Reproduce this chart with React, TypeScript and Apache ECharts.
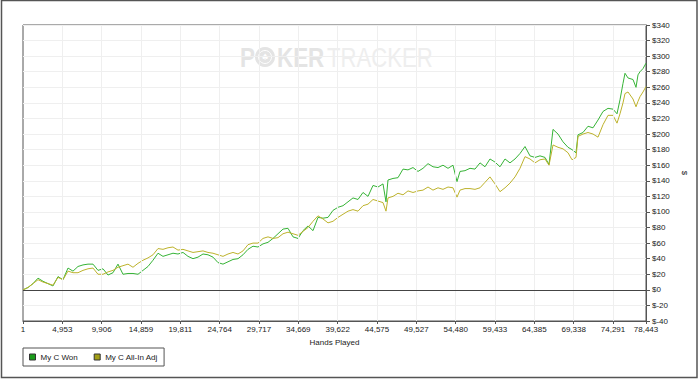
import React, { useEffect, useRef } from "react";
import * as echarts from "echarts";

const seriesNames = ["My C Won", "My C All-In Adj"];

const hands = [
  1, 631, 1260, 1890, 2519, 3149, 3778, 4408, 5037, 5667, 6296, 6926, 7556, 8185, 8815, 9444, 10074, 10703, 11333,
  11962, 12592, 13221, 13851, 14481, 15110, 15740, 16369, 16999, 17628, 18258, 18887, 19517, 20147, 20776, 21406,
  22035, 22665, 23294, 23924, 24553, 25183, 25812, 26442, 27072, 27701, 28331, 28960, 29590, 30219, 30849, 31478,
  32108, 32738, 33367, 33997, 34626, 35256, 35885, 36515, 37144, 37774, 38404, 39033, 39663, 40292, 40922, 41551,
  42181, 42810, 43440, 44070, 44699, 45329, 45706, 45958, 46588, 47217, 47847, 48476, 49106, 49736, 50365, 50995,
  51624, 52254, 52883, 53513, 54142, 54646, 55024, 55653, 56283, 56912, 57542, 58171, 58801, 59431, 60060, 60690,
  61319, 61949, 62578, 63208, 63837, 64467, 65097, 65726, 66230, 66734, 67363, 67993, 68622, 69126, 69630, 69881,
  70511, 71140, 71770, 72400, 73029, 73659, 74288, 74792, 75170, 75547, 75799, 76177, 76806, 77184, 77436, 77688,
  78065, 78443,
];

const wonValues = [
  0, 3, 8, 15, 11, 8, 5, 17, 13, 28, 24, 30, 32, 33, 33, 25, 27, 19, 22, 33, 20, 21, 21, 20, 25, 30, 38, 47, 43, 45,
  47, 46, 48, 43, 40, 42, 46, 45, 42, 35, 33, 36, 39, 40, 45, 52, 56, 55, 59, 61, 66, 72, 78, 79, 68, 66, 76, 82, 76,
  93, 92, 93, 102, 106, 108, 113, 118, 116, 125, 120, 134, 132, 136, 113, 141, 143, 144, 155, 154, 157, 152, 156, 162,
  158, 157, 160, 156, 160, 139, 152, 153, 156, 155, 163, 158, 168, 164, 158, 168, 163, 168, 175, 184, 172, 170, 172,
  170, 161, 206, 200, 190, 183, 180, 176, 199, 202, 210, 208, 218, 229, 233, 232, 226, 244, 265, 278, 272, 270, 260,
  276, 280, 284, 291,
];

const allInValues = [
  0, 3, 8, 13, 10, 8, 6, 16, 13, 24, 22, 22, 25, 27, 28, 20, 20, 23, 25, 29, 31, 33, 29, 34, 38, 41, 45, 53, 52, 54,
  55, 51, 52, 50, 48, 49, 50, 48, 47, 45, 43, 46, 48, 46, 50, 58, 60, 60, 66, 68, 66, 67, 72, 74, 72, 70, 75, 80, 88,
  95, 91, 86, 88, 93, 97, 101, 103, 101, 108, 110, 116, 114, 112, 101, 118, 120, 124, 122, 127, 125, 127, 128, 132,
  128, 131, 129, 132, 131, 119, 128, 130, 130, 129, 131, 138, 145, 136, 126, 131, 137, 145, 156, 171, 168, 163, 167,
  168, 160, 186, 183, 181, 176, 167, 170, 197, 200, 202, 200, 196, 212, 224, 224, 214, 226, 240, 252, 254, 245, 235,
  242, 248, 254, 261,
];

const xTickValues = [
  1, 4953, 9906, 14859, 19811, 24764, 29717, 34669, 39622, 44575, 49527, 54480, 59433, 64385, 69338, 74291, 78443,
];

const yMin = -40;
const yMax = 340;
const yStep = 20;

export default function App() {
  const ref = useRef<HTMLDivElement>(null);

  useEffect(() => {
    if (!ref.current) return;
    const chart = echarts.init(ref.current, null, { renderer: "svg" });
    const font = "'Liberation Sans', Arial, sans-serif";
    const txt = "#222";
    const axisCol = "#555";
    const wmBold = "bold 28px 'Liberation Sans', Arial, sans-serif";
    const wmReg = "28px 'Liberation Sans', Arial, sans-serif";

    chart.setOption({
      animation: false,
      backgroundColor: "#ffffff",
      textStyle: { fontFamily: font },
      grid: {
        left: 23,
        right: 54,
        top: 25,
        bottom: 58,
        show: true,
        borderColor: axisCol,
        borderWidth: 1,
        backgroundColor: "transparent",
      },
      legend: {
        left: 23,
        top: 348,
        orient: "horizontal",
        padding: [5, 6, 5, 6],
        itemGap: 16,
        itemWidth: 6,
        itemHeight: 6,
        borderColor: axisCol,
        borderWidth: 1,
        textStyle: { fontSize: 8, color: txt, fontFamily: font },
        data: [
          { name: seriesNames[0], icon: "rect", itemStyle: { color: "#1a9c1a", borderColor: "#333", borderWidth: 1 } },
          { name: seriesNames[1], icon: "rect", itemStyle: { color: "#a29e14", borderColor: "#333", borderWidth: 1 } },
        ],
      },
      graphic: [
        {
          type: "rect",
          shape: { x: 1.5, y: 0.5, width: 695.5, height: 377 },
          style: { fill: "none", stroke: "#555", lineWidth: 1.5 },
          silent: true,
          z: 100,
        },
        {
          type: "text",
          x: 240,
          y: 57,
          scaleX: 0.8,
          style: { text: "P", font: wmBold, fill: "#e4e4e4", verticalAlign: "middle" },
          silent: true,
        },
        {
          type: "circle",
          shape: { cx: 265, cy: 57, r: 10 },
          style: { fill: "#e4e4e4" },
          silent: true,
        },
        {
          type: "circle",
          shape: { cx: 265, cy: 57, r: 6.5 },
          style: { fill: "none", stroke: "#ffffff", lineWidth: 1 },
          silent: true,
        },
        {
          type: "text",
          x: 265,
          y: 57,
          style: {
            text: "♠",
            font: "9px 'DejaVu Sans', sans-serif",
            fill: "#ffffff",
            align: "center",
            verticalAlign: "middle",
          },
          silent: true,
        },
        {
          type: "text",
          x: 277,
          y: 57,
          scaleX: 0.8,
          style: { text: "KER", font: wmBold, fill: "#e4e4e4", verticalAlign: "middle" },
          silent: true,
        },
        {
          type: "text",
          x: 327,
          y: 57,
          scaleX: 0.79,
          style: { text: "TRACKER", font: wmReg, fill: "#eeeeee", verticalAlign: "middle" },
          silent: true,
        },
      ],
      xAxis: {
        type: "value",
        min: xTickValues[0],
        max: xTickValues[xTickValues.length - 1],
        name: "Hands Played",
        nameLocation: "middle",
        nameGap: 17,
        nameTextStyle: { fontSize: 8, color: txt, fontFamily: font },
        axisLine: { show: true, onZero: false, lineStyle: { color: axisCol, width: 1 } },
        axisTick: { show: true, customValues: xTickValues, length: 3, lineStyle: { color: axisCol } },
        axisLabel: {
          customValues: xTickValues,
          fontSize: 8,
          color: txt,
          margin: 4,
          fontFamily: font,
          formatter: (v: number) => Number(v).toLocaleString("en-US"),
        },
        splitLine: { show: false },
      },
      yAxis: {
        type: "value",
        position: "right",
        min: yMin,
        max: yMax,
        interval: yStep,
        name: "$",
        nameLocation: "middle",
        nameGap: 30,
        nameRotate: -90,
        nameTextStyle: { fontSize: 8, color: txt, fontFamily: font },
        axisLine: { show: true, lineStyle: { color: axisCol, width: 1 } },
        axisTick: { show: true, length: 4, lineStyle: { color: axisCol } },
        axisLabel: {
          fontSize: 8,
          color: txt,
          margin: 6,
          fontFamily: font,
          formatter: (v: number) => "$" + v,
        },
        splitLine: { show: true, lineStyle: { color: "#efefef", width: 1 } },
      },
      series: [
        {
          type: "line",
          name: "gridlines",
          data: [[hands[0], 0]],
          showSymbol: false,
          silent: true,
          lineStyle: { width: 0 },
          z: 1,
          markLine: {
            silent: true,
            symbol: ["none", "none"],
            label: { show: false },
            lineStyle: { color: "#efefef", width: 1, type: "solid" },
            data: [
              ...xTickValues.slice(1, -1).map((v) => ({ xAxis: v })),
              { yAxis: 0, lineStyle: { color: "#444", width: 1, type: "solid" } },
            ],
          },
        },
        {
          type: "line",
          name: seriesNames[0],
          data: hands.map((h, i) => [h, wonValues[i]]),
          showSymbol: false,
          lineStyle: { width: 1, color: "#36b336" },
          itemStyle: { color: "#1a9c1a" },
          z: 3,
        },
        {
          type: "line",
          name: seriesNames[1],
          data: hands.map((h, i) => [h, allInValues[i]]),
          showSymbol: false,
          lineStyle: { width: 1, color: "#bdb22c" },
          itemStyle: { color: "#a29e14" },
          z: 3,
        },
      ],
    });

    return () => chart.dispose();
  }, []);

  return <div ref={ref} style={{ position: "absolute", left: 0, top: 0, width: 700, height: 379 }} />;
}
